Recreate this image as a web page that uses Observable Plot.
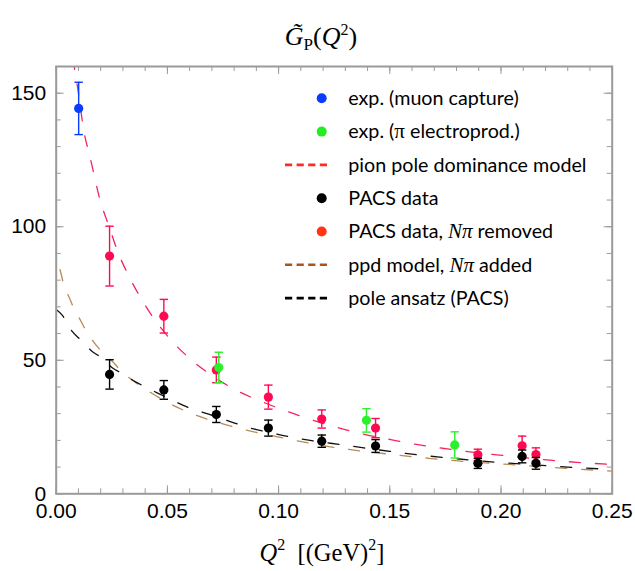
<!DOCTYPE html>
<html>
<head>
<meta charset="utf-8">
<script src="https://cdn.jsdelivr.net/npm/d3@7"></script>
<script src="https://cdn.jsdelivr.net/npm/@observablehq/plot@0.6"></script>
<style>
  body { margin: 0; background: #fff; }
  #chart { width: 635px; height: 571px; }
</style>
</head>
<body>
<div id="chart"></div>
<script>
// ---- Experimental points -------------------------------------------------
const muonQ2 = [0.0101];
const muonG = [144.3];
const muonErr = [9.8];

const electroQ2 = [0.0731, 0.1395, 0.1792];
const electroG = [47.3, 27.5, 18.3];
const electroErr = [5.7, 4.4, 4.9];

// ---- PACS lattice points -------------------------------------------------
const pacsQ2 = [0.0240, 0.0484, 0.0720, 0.0954, 0.1194, 0.1436, 0.1896, 0.2095, 0.2157];
const pacsG = [44.7, 38.9, 29.7, 24.6, 19.7, 17.9, 11.4, 14.0, 11.4];
const pacsErr = [5.5, 3.5, 3.0, 3.0, 2.3, 2.4, 1.9, 2.4, 2.2];

const removedG = [89.0, 66.5, 46.4, 36.2, 28.0, 24.6, 14.6, 18.0, 14.7];
const removedErr = [11.2, 6.3, 4.8, 4.5, 3.4, 3.6, 2.1, 3.6, 2.5];

// ---- Model curves ----------------------------------------------------------
const ppdQ2 = [0.0075, 0.0100, 0.0124, 0.0151, 0.0199, 0.0238, 0.0279, 0.0330, 0.0386, 0.0458,
               0.0530, 0.0620, 0.0712, 0.0821, 0.0940, 0.1040, 0.1150, 0.1270, 0.1390, 0.1510,
               0.1620, 0.1750, 0.1860, 0.1980, 0.2220, 0.2340, 0.2500];
const ppdG = [163, 150, 136, 126.5, 109.5, 100.0, 90.2, 81.0, 72.5, 63.5,
              56.3, 49.3, 43.6, 38.3, 34.0, 30.8, 27.7, 24.7, 22.2, 20.2,
              18.5, 16.9, 15.7, 14.6, 12.6, 11.8, 11.0];

const addedQ2 = [0.0000, 0.0016, 0.0034, 0.0057, 0.0082, 0.0109, 0.0139, 0.0169, 0.0222, 0.0252,
                 0.0297, 0.0342, 0.0394, 0.0439, 0.0514, 0.0611, 0.0739, 0.0900, 0.1050, 0.1188,
                 0.1316, 0.1436, 0.1556, 0.1675, 0.1795, 0.1908, 0.2035, 0.2155, 0.2275, 0.2395, 0.2500];
const addedG = [88.5, 84.3, 78.4, 73.8, 69.0, 65.0, 60.4, 56.8, 51.8, 49.6,
                45.6, 42.6, 39.5, 37.2, 33.6, 30.0, 26.4, 23.0, 20.4, 18.2,
                16.6, 15.4, 14.3, 13.3, 12.4, 11.7, 11.0, 10.3, 9.6, 9.0, 8.5];

const poleQ2 = [0.0000, 0.0027, 0.0070, 0.0110, 0.0159, 0.0199, 0.0252, 0.0297, 0.0357, 0.0394,
                0.0454, 0.0506, 0.0574, 0.0619, 0.0686, 0.0724, 0.0799, 0.0844, 0.0950, 0.1070,
                0.1190, 0.1263, 0.1383, 0.1500, 0.1623, 0.1743, 0.1870, 0.1983, 0.2100, 0.2223,
                0.2343, 0.2500];
const poleG = [69.0, 66.9, 61.0, 57.6, 53.5, 51.2, 47.2, 45.0, 41.9, 40.3,
               37.8, 35.8, 33.0, 31.6, 29.8, 28.7, 26.6, 25.3, 23.1, 21.0,
               19.4, 18.6, 17.2, 15.9, 14.6, 13.6, 12.6, 11.8, 11.1, 10.4,
               9.8, 9.1];

// ---- Axis ticks ------------------------------------------------------------
const xTicks = [0, 0.05, 0.10, 0.15, 0.20, 0.25];
const yTicks = [0, 50, 100, 150];
const xMinor = d3.range(0, 26).map(i => i / 100);
const yMinor = d3.range(0, 17).map(i => i * 10);

// ---- Legend ----------------------------------------------------------------
const legendLabels = [
  ["exp. (muon capture)"],
  ["exp. (", {t: "π", serif: true}, " electroprod.)"],
  ["pion pole dominance model"],
  ["PACS data"],
  ["PACS data, ", {t: "Nπ", serif: true, italic: true}, " removed"],
  ["ppd model, ", {t: "Nπ", serif: true, italic: true}, " added"],
  ["pole ansatz (PACS)"]
];
const legendKinds = ["dot", "dot", "dash", "dot", "dot", "dash", "dash"];
const legendColors = ["#0a3cff", "#22ee22", "#ff2a22", "#000000", "#ff3516", "#a8561e", "#000000"];

// ---- Styling -----------------------------------------------------------------
const W = 635, H = 571;
const mL = 55.7, mR = 23.3, mT = 66, mB = 77.7;
const frameW = W - mL - mR, frameH = H - mT - mB;
const cRed = "#ff0a52", cBlue = "#0a3cff", cGreen = "#2cf02c", cBlack = "#000";
const cRedLine = "#f4255e", cBrownLine = "#b88a55";
const gray = "#9a9a9a";

const curve = (q, g) => q.map((x, i) => ({x, y: g[i]}));
const points = (q, g, e) => q.map((x, i) => ({x, y: g[i], lo: g[i] - e[i], hi: g[i] + e[i]}));

const ppd = curve(ppdQ2, ppdG);
const added = curve(addedQ2, addedG);
const pole = curve(poleQ2, poleG);
const muon = points(muonQ2, muonG, muonErr);
const electro = points(electroQ2, electroG, electroErr);
const pacs = points(pacsQ2, pacsG, pacsErr);
const removed = points(pacsQ2, removedG, removedErr);

// horizontal cap for error bars
const capSymbol = {
  draw(context, size) {
    const r = Math.sqrt(size / Math.PI);
    context.moveTo(-r, 0);
    context.lineTo(r, 0);
  }
};

function errorMarks(data, color) {
  return [
    Plot.ruleX(data, {x: "x", y1: "lo", y2: "hi", stroke: color, strokeWidth: 1.4}),
    Plot.dot(data, {x: "x", y: "hi", symbol: capSymbol, r: 4.2, fill: "none", stroke: color, strokeWidth: 1.4}),
    Plot.dot(data, {x: "x", y: "lo", symbol: capSymbol, r: 4.2, fill: "none", stroke: color, strokeWidth: 1.4})
  ];
}

const lineOpts = {x: "x", y: "y", strokeWidth: 1.3, strokeDasharray: "11,15", curve: "monotone-x", clip: true};

const plot = Plot.plot({
  width: W,
  height: H,
  marginLeft: mL,
  marginRight: mR,
  marginTop: mT,
  marginBottom: mB,
  x: {domain: [0, 0.25]},
  y: {domain: [0, 160]},
  style: {background: "#fff", overflow: "visible"},
  marks: [
    // inward ticks on all four sides
    Plot.tickX(xMinor, {x: d => d, stroke: gray, insetTop: frameH - 5}),
    Plot.tickX(xMinor, {x: d => d, stroke: gray, insetBottom: frameH - 5}),
    Plot.tickX(xTicks, {x: d => d, stroke: gray, insetTop: frameH - 8}),
    Plot.tickX(xTicks, {x: d => d, stroke: gray, insetBottom: frameH - 8}),
    Plot.tickY(yMinor, {y: d => d, stroke: gray, insetRight: frameW - 5}),
    Plot.tickY(yMinor, {y: d => d, stroke: gray, insetLeft: frameW - 5}),
    Plot.tickY(yTicks, {y: d => d, stroke: gray, insetRight: frameW - 8}),
    Plot.tickY(yTicks, {y: d => d, stroke: gray, insetLeft: frameW - 8}),
    Plot.axisX(xTicks, {tickSize: 0, tickPadding: 9, tickFormat: d3.format(".2f"), label: null,
      fontSize: 21, fontFamily: "Liberation Sans", fill: "#000"}),
    Plot.axisY(yTicks, {tickSize: 0, tickPadding: 10, tickFormat: d => d, label: null,
      fontSize: 21, fontFamily: "Liberation Sans", fill: "#000"}),

    // model curves
    Plot.line(ppd, {...lineOpts, stroke: cRedLine}),
    Plot.line(added, {...lineOpts, stroke: cBrownLine, strokeDashoffset: 13}),
    Plot.line(pole, {...lineOpts, stroke: "#111"}),

    // data with error bars
    ...errorMarks(removed, cRed),
    Plot.dot(removed, {x: "x", y: "y", r: 4.6, fill: cRed}),
    ...errorMarks(pacs, cBlack),
    Plot.dot(pacs, {x: "x", y: "y", r: 4.6, fill: cBlack}),
    ...errorMarks(electro, cGreen),
    Plot.dot(electro, {x: "x", y: "y", r: 4.6, fill: cGreen}),
    ...errorMarks(muon, cBlue),
    Plot.dot(muon, {x: "x", y: "y", r: 4.6, fill: cBlue}),

    Plot.frame({stroke: gray, strokeWidth: 2})
  ]
});

document.getElementById("chart").appendChild(plot);

const svg = d3.select(plot);
const serif = "'Liberation Serif', 'DejaVu Serif', serif";

// title: G̃_P(Q²)
const title = svg.append("text")
  .attr("x", 321).attr("y", 45)
  .attr("text-anchor", "middle")
  .attr("font-family", serif)
  .attr("font-size", 26)
  .attr("fill", "#000");
title.append("tspan").attr("font-style", "italic").text("G\u0303");
title.append("tspan").attr("font-size", 17).attr("dy", 5).text("P");
title.append("tspan").attr("dy", -5).text("(");
title.append("tspan").attr("font-style", "italic").text("Q");
title.append("tspan").attr("font-size", 16).attr("dy", -10).text("2");
title.append("tspan").attr("dy", 10).text(")");

// x-axis label: Q² [(GeV)²]
const xl = svg.append("text")
  .attr("x", 322).attr("y", 561)
  .attr("text-anchor", "middle")
  .attr("font-family", serif)
  .attr("font-size", 24.5)
  .attr("fill", "#000");
xl.append("tspan").attr("font-style", "italic").text("Q");
xl.append("tspan").attr("font-size", 16).attr("dy", -11).text("2");
xl.append("tspan").attr("dy", 11).text("\u2002[(GeV)");
xl.append("tspan").attr("font-size", 16).attr("dy", -11).text("2");
xl.append("tspan").attr("dy", 11).text("]");

// legend inside the frame
const lg = svg.append("g").attr("text-anchor", "start");
legendLabels.forEach((parts, i) => {
  const y = 98.3 + i * 33.3;
  const color = legendColors[i];
  if (legendKinds[i] === "dot") {
    lg.append("circle").attr("cx", 321.7).attr("cy", y).attr("r", 5).attr("fill", color);
  } else {
    lg.append("line").attr("x1", 285).attr("x2", 327).attr("y1", y).attr("y2", y)
      .attr("stroke", color).attr("stroke-width", 2.6).attr("stroke-dasharray", "7.2,4.4");
  }
  const t = lg.append("text")
    .attr("x", 348.3).attr("y", y)
    .attr("dy", "0.35em")
    .attr("text-anchor", "start")
    .attr("font-family", "Lato, 'Open Sans', sans-serif")
    .attr("font-size", 19.7)
    .attr("fill", "#000");
  parts.forEach(p => {
    if (typeof p === "string") t.append("tspan").text(p);
    else t.append("tspan")
      .attr("font-family", serif)
      .attr("font-size", 21)
      .attr("font-style", p.italic ? "italic" : null)
      .text(p.t);
  });
});
</script>
</body>
</html>
